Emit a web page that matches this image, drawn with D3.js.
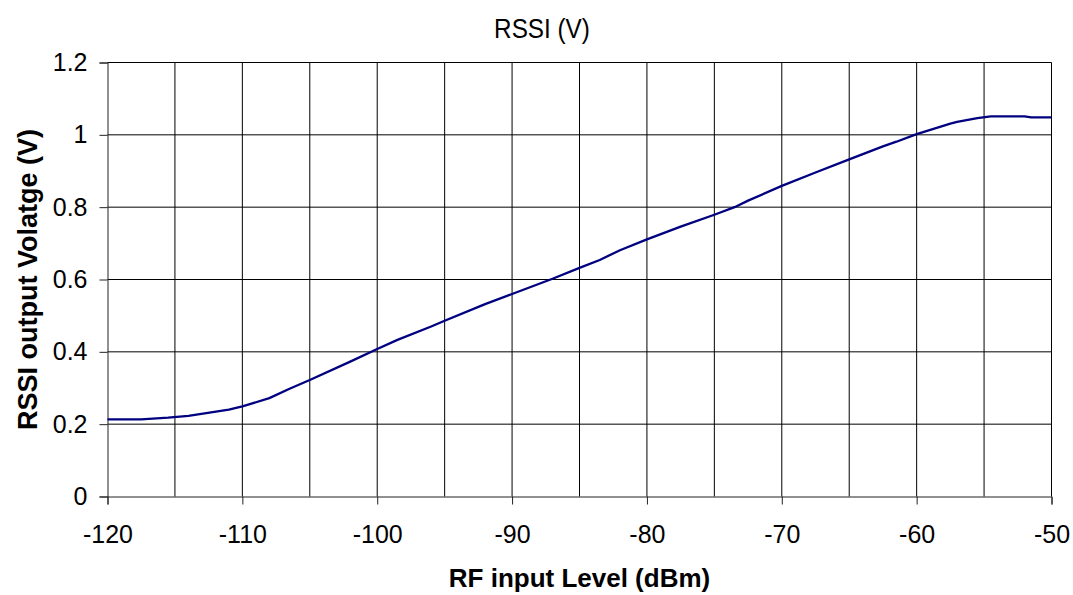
<!DOCTYPE html>
<html>
<head>
<meta charset="utf-8">
<script src="https://cdn.jsdelivr.net/npm/d3@7"></script>
<style>
  html, body { margin: 0; padding: 0; background: #fff; }
  svg { display: block; }
  text { font-family: Arial, "Liberation Sans", sans-serif; fill: #000; }
</style>
</head>
<body>
<svg id="chart" width="1073" height="595"></svg>
<script>
// ---- data ----
const rfLevel = [-120, -117.5, -115.5, -114, -111, -110, -108, -106.5, -105, -102, -100, -98.5, -96, -95, -92, -90, -87, -85, -83.5, -82, -80, -77.5, -75, -73.5, -72.5, -70, -67.5, -65, -62.5, -61.5, -60, -57.5, -57, -55.5, -54.5, -52, -51.5, -50];
const rssiVolts = [0.213, 0.213, 0.218, 0.223, 0.240, 0.249, 0.272, 0.298, 0.322, 0.373, 0.408, 0.433, 0.470, 0.486, 0.532, 0.560, 0.602, 0.632, 0.654, 0.681, 0.711, 0.746, 0.779, 0.800, 0.818, 0.859, 0.896, 0.932, 0.968, 0.981, 1.002, 1.031, 1.036, 1.046, 1.051, 1.051, 1.048, 1.048];
const xTickLabels = [-120, -110, -100, -90, -80, -70, -60, -50];
const xGridValues = [-115, -110, -105, -100, -95, -90, -85, -80, -75, -70, -65, -60, -55, -50];
const yTickLabels = [0, 0.2, 0.4, 0.6, 0.8, 1, 1.2];
const chartTitle = "RSSI (V)";
const xTitle = "RF input Level (dBm)";
const yTitle = "RSSI output Volatge (V)";

// ---- layout ----
const svg = d3.select("#chart");
const x = d3.scaleLinear().domain([-120, -50]).range([107.5, 1051.5]);
const y = d3.scaleLinear().domain([0, 1.2]).range([496.5, 62.5]);

// horizontal gridlines
svg.append("g")
  .selectAll("line.h")
  .data(yTickLabels.filter(v => v > 0))
  .join("line")
  .attr("x1", x(-120)).attr("x2", x(-50))
  .attr("y1", d => y(d)).attr("y2", d => y(d))
  .attr("stroke", "#000").attr("stroke-width", 1);

// vertical gridlines
svg.append("g")
  .selectAll("line.v")
  .data(xGridValues)
  .join("line")
  .attr("x1", d => x(d)).attr("x2", d => x(d))
  .attr("y1", y(0)).attr("y2", y(1.2))
  .attr("stroke", "#000").attr("stroke-width", 1);

// y axis
const yAxis = d3.axisLeft(y).tickValues(yTickLabels).tickSize(8).tickPadding(12)
  .tickFormat(d => d3.format("")(Math.round(d * 10) / 10));
const gy = svg.append("g").attr("transform", `translate(${x(-120)},0)`).call(yAxis);
gy.select(".domain").attr("stroke", "#222");
gy.selectAll(".tick line").attr("stroke", "#222");
gy.selectAll("text").style("font-size", "25px").attr("fill", "#000")
  .attr("font-family", "Arial, 'Liberation Sans', sans-serif");

// x axis
const xAxis = d3.axisBottom(x).tickValues(xTickLabels).tickSize(8).tickPadding(21);
const gx = svg.append("g").attr("transform", `translate(0,${y(0)})`).call(xAxis);
gx.select(".domain").attr("stroke", "#222");
gx.selectAll(".tick line").attr("stroke", "#222");
gx.selectAll("text").style("font-size", "25px").attr("fill", "#000")
  .attr("font-family", "Arial, 'Liberation Sans', sans-serif")
  .text(d => String(d));

// data line
const line = d3.line().x((d, i) => x(rfLevel[i])).y(d => y(d));
svg.append("path")
  .datum(rssiVolts)
  .attr("d", line)
  .attr("fill", "none")
  .attr("stroke", "#000080")
  .attr("stroke-width", 2.3)
  .attr("stroke-linejoin", "round");

// titles
svg.append("text")
  .attr("transform", "translate(542,38) scale(0.9,1)")
  .attr("text-anchor", "middle")
  .style("font-size", "27px")
  .text(chartTitle);

svg.append("text")
  .attr("x", (x(-120) + x(-50)) / 2)
  .attr("y", 587)
  .attr("text-anchor", "middle")
  .style("font-size", "26px")
  .style("font-weight", "bold")
  .text(xTitle);

svg.append("text")
  .attr("transform", `translate(37,${(y(0) + y(1.2)) / 2}) rotate(-90)`)
  .attr("text-anchor", "middle")
  .style("font-size", "27px")
  .style("font-weight", "bold")
  .text(yTitle);
</script>
</body>
</html>
